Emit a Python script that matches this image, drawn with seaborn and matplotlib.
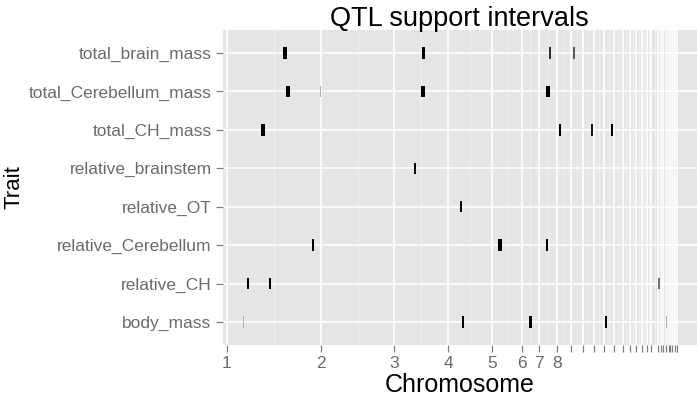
import numpy as np
import pandas as pd
import matplotlib
matplotlib.use("Agg")
import matplotlib.pyplot as plt
import seaborn as sns

# chromosome lengths (Mb), in plotting order
chrom_names = ["1", "2", "3", "4", "5", "6", "7", "8", "9", "10", "11", "12", "13", "14",
               "15", "17", "18", "19", "20", "21", "22", "23", "24", "25", "26", "27", "28"]
chrom_len_mb = [200.99, 154.87, 113.66, 94.23, 62.24, 35.84, 38.38, 30.67, 25.55, 22.56,
                21.93, 20.54, 18.91, 15.82, 12.97, 11.18, 10.93, 9.94, 13.99, 6.96,
                3.94, 6.04, 6.40, 2.03, 5.10, 4.84, 4.51]
labelled_chroms = ["1", "2", "3", "4", "5", "6", "7", "8"]

# traits, bottom to top
traits = ["body_mass", "relative_CH", "relative_Cerebellum", "relative_OT",
          "relative_brainstem", "total_CH_mass", "total_Cerebellum_mass", "total_brain_mass"]

# QTL support intervals in cumulative genome position (Mb)
qtl_trait = ["total_brain_mass"] * 4 + ["total_Cerebellum_mass"] * 4 + ["total_CH_mass"] * 4 \
    + ["relative_brainstem", "relative_OT"] + ["relative_Cerebellum"] * 3 \
    + ["relative_CH"] * 3 + ["body_mass"] * 5
qtl_start = [120.0, 414.0, 684.7, 735.3,
             126.4, 197.8, 412.3, 678.2,
             73.4, 705.1, 773.5, 814.8,
             398.1, 494.4,
             180.4, 576.2, 677.5,
             42.5, 90.4, 914.5,
             35.6, 499.7, 641.8, 802.7, 932.0]
qtl_end = [128.5, 420.4, 687.3, 738.5,
           134.9, 201.0, 420.7, 686.6,
           81.9, 709.3, 776.7, 819.0,
           402.3, 498.6,
           184.6, 583.6, 681.7,
           46.7, 94.6, 918.7,
           37.7, 503.9, 648.2, 806.9, 935.2]
qtl_support = [1.0, 1.0, 0.8, 0.6,
               1.0, 0.3, 1.0, 1.0,
               1.0, 1.0, 0.9, 1.0,
               1.0, 1.0,
               1.0, 1.0, 1.0,
               1.0, 1.0, 0.55,
               0.25, 1.0, 1.0, 1.0, 0.3]

df = pd.DataFrame({"trait": qtl_trait, "start": qtl_start, "end": qtl_end, "support": qtl_support})
df["y"] = df["trait"].map({t: i for i, t in enumerate(traits)})

chrom_start = np.concatenate([[0], np.cumsum(chrom_len_mb)])
breaks = chrom_start
minor_breaks = (breaks[:-1] + breaks[1:]) / 2
tick_labels = [chrom_names[i] if i < len(chrom_names) and chrom_names[i] in labelled_chroms else ""
               for i in range(len(breaks))]

sns.set_theme(style="darkgrid")
plt.rcParams["font.family"] = ["Liberation Sans", "DejaVu Sans"]

fig = plt.figure(figsize=(6.97, 4.0), dpi=100)
ax = fig.add_axes([0.3195, 0.1375, 0.6805, 0.7875])
ax.set_facecolor("#E5E5E5")

for _, r in df.iterrows():
    ax.barh(r["y"], r["end"] - r["start"], left=r["start"], height=0.3,
            color="black", alpha=r["support"], linewidth=0, zorder=3)

ax.set_xlim(-8.5, 998)
ax.set_ylim(-0.6, len(traits) - 0.4)

ax.set_xticks(breaks)
ax.set_xticklabels(tick_labels)
ax.set_xticks(minor_breaks, minor=True)
ax.set_yticks(range(len(traits)))
ax.set_yticklabels(traits)

ax.grid(which="major", color="white", linewidth=1.2)
ax.grid(which="minor", axis="x", color="#F2F2F2", linewidth=0.6)
ax.set_axisbelow(True)
for s in ax.spines.values():
    s.set_visible(False)

ax.tick_params(axis="both", which="major", length=5, width=0.9, color="#7F7F7F",
               labelcolor="#6B6B6B", labelsize=12.5, pad=3, bottom=True, left=True)
ax.tick_params(axis="x", which="minor", length=0)

ax.set_xlabel("Chromosome", fontsize=18, color="black", labelpad=1)
ax.set_ylabel("Trait", fontsize=16, color="black")
ax.yaxis.set_label_coords(-0.417, 0.5)
ax.set_title("QTL support intervals", fontsize=19.5, color="black", pad=3)

fig.savefig("out.png", dpi=100)
